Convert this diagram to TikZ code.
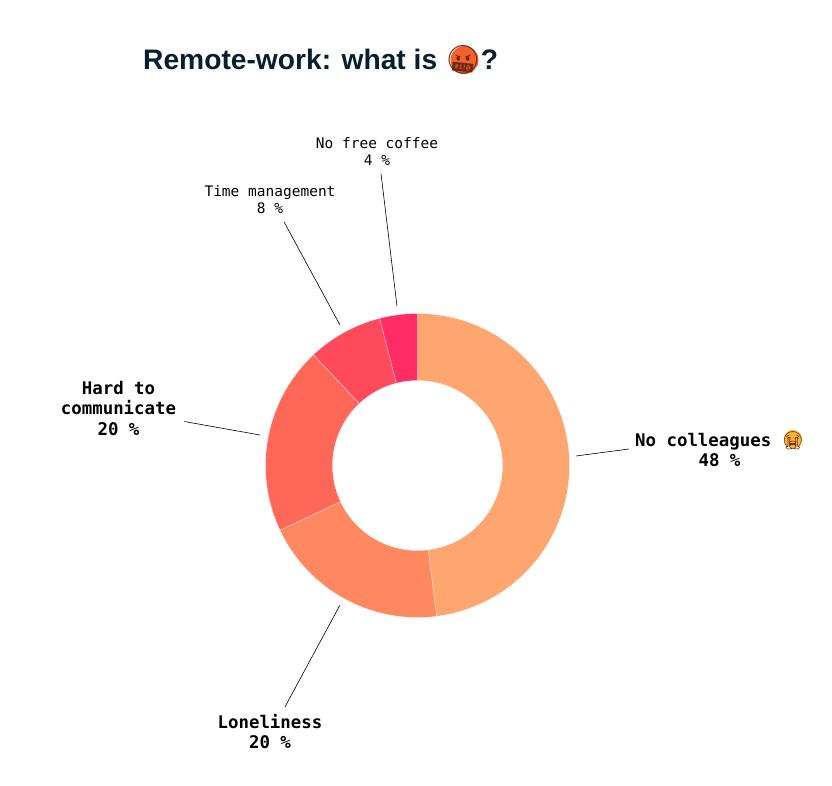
\documentclass[tikz,border=0pt]{standalone}
\usepackage{fontspec}
\setmainfont{Liberation Sans}
\newfontfamily\monofont{DejaVu Sans Mono}
\newfontfamily\emojifont{Noto Emoji}
\usepackage{xcolor}
\usetikzlibrary{calc, positioning}

\definecolor{titleink}{HTML}{06202F}
\definecolor{sliceA}{HTML}{FFA56F}
\definecolor{sliceB}{HTML}{FF8860}
\definecolor{sliceC}{HTML}{FF6759}
\definecolor{sliceD}{HTML}{FF4A5B}
\definecolor{sliceE}{HTML}{FF2D63}
\definecolor{faceangry}{HTML}{F4602A}
\definecolor{facesad}{HTML}{FFB52E}
\definecolor{faceline}{HTML}{6B2A12}

\tikzset{
    x=1pt, y=1pt,
    slice/.style={draw=white, line width=0.2pt},
    lead/.style={draw=black, line width=0.6pt},
    small/.style={font=\monofont\fontsize{14.5}{17}\selectfont, align=center, inner sep=0pt},
    big/.style={font=\monofont\bfseries\fontsize{17.4}{20.5}\selectfont, align=center, inner sep=0pt}
}

\begin{document}
\begin{tikzpicture}
    \useasboundingbox (-417.5, -319.5) rectangle (414.5, 465.5);

    % ring, clockwise from the top
    \foreach \from/\to/\col in {90/-82.8/sliceA, -82.8/-154.8/sliceB, -154.8/-226.8/sliceC, -226.8/-255.6/sliceD, -255.6/-270/sliceE}
        \path[slice, fill=\col] (\from:152) arc[start angle=\from, end angle=\to, radius=152]
            -- (\to:85) arc[start angle=\to, end angle=\from, radius=85] -- cycle;

    % title
    \fill[faceangry] (47, 405.5) circle (14);
    \node[anchor=west, inner sep=0pt, text=titleink, font=\bfseries\fontsize{28.2}{32}\selectfont] (title) at (-274.5, 405.5)
        {Remote-work: what is {\emojifont\fontsize{28.2}{32}\selectfont\color{faceline}🤬}?};

    % labels
    \node[small] (coffee) at (-40.5, 314) {No free coffee\\4 \%};
    \node[small] (time) at (-147.5, 266) {Time management\\8 \%};
    \node[big] (hard) at (-299, 57) {Hard to\\communicate\\20 \%};
    \node[big] (lonely) at (-147.5, -266) {Loneliness\\20 \%};
    \fill[facesad] (375.5, 26.5) circle (9);
    \node[big] (colleagues) at (302, 16.5) {No colleagues {\emojifont\fontsize{17.4}{20.5}\selectfont\color{faceline}😭}\\48 \%};

    % where the leaders touch the ring
    \coordinate (coffeeTip) at (-20.5, 159.5);
    \coordinate (timeTip) at (-77.5, 140.5);
    \coordinate (hardTip) at (-157.5, 30.5);
    \coordinate (lonelyTip) at (-77.5, -139.5);
    \coordinate (colleaguesTip) at (158.5, 9.5);

    \draw[lead] (coffeeTip) -- ($(coffee.south) + (4, -8)$);
    \draw[lead] (timeTip) -- ($(time.south) + (14, -8)$);
    \draw[lead] (hardTip) -- ($(hard.east) + (8, -13)$);
    \draw[lead] (lonelyTip) -- ($(lonely.north) + (15, 7)$);
    \draw[lead] (colleaguesTip) -- ($(colleagues.west) + (-6, 0)$);
\end{tikzpicture}
\end{document}
